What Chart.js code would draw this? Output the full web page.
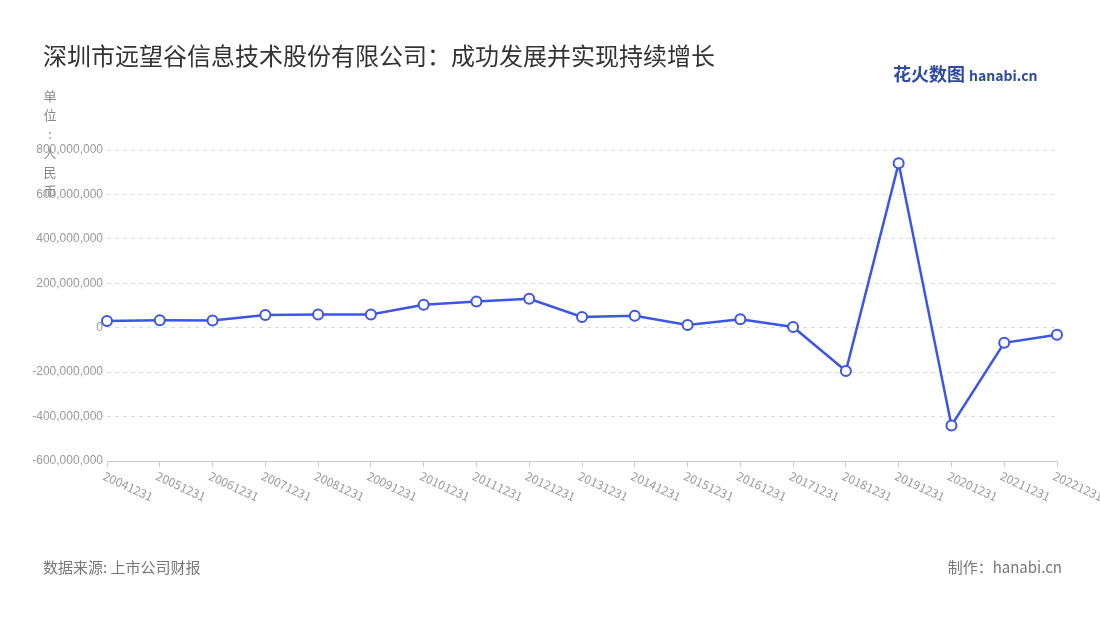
<!DOCTYPE html>
<html><head><meta charset="utf-8">
<script src="https://cdn.jsdelivr.net/npm/chart.js@4"></script>
<style>
body{margin:0;width:1100px;height:620px;background:#fff;font-family:"Noto Sans CJK SC","Noto Sans",sans-serif;position:relative;overflow:hidden}
#title{position:absolute;left:43px;top:37px;font-size:24px;color:#333}
#logo{position:absolute;left:893px;top:60px;font-size:18px;font-weight:bold;color:#2d4ba0}
#logo span{font-size:14px;color:#2d4ba0}
#unit{position:absolute;left:43px;top:86px;width:14px;font-size:13px;color:#888;line-height:19px;text-align:center}
#src{position:absolute;left:43px;top:556px;font-size:15px;color:#777}
#made{position:absolute;right:38px;top:556px;font-size:15px;color:#777}
#wrap{position:absolute;left:0;top:0;width:1100px;height:620px}
</style></head><body>
<div id="wrap"><canvas id="c" width="1100" height="620"></canvas></div>
<div id="title">深圳市远望谷信息技术股份有限公司：成功发展并实现持续增长</div>
<div id="logo">花火数图 <span>hanabi.cn</span></div>
<div id="unit">单<br>位<br>:<br>人<br>民<br>币</div>
<div id="src">数据来源: 上市公司财报</div>
<div id="made">制作：hanabi.cn</div>
<script>
const categories=["20041231","20051231","20061231","20071231","20081231","20091231","20101231","20111231","20121231","20131231","20141231","20151231","20161231","20171231","20181231","20191231","20201231","20211231","20221231"];
const values=[30e6,34e6,33e6,57e6,60e6,60e6,103e6,118e6,130e6,48e6,54e6,12e6,38e6,3e6,-195e6,740e6,-440e6,-68e6,-32e6];
const rotLabels={id:'rot',afterDraw(ch){const x=ch.scales.x,c=ch.ctx;c.save();c.font='12px "Noto Sans CJK SC"';c.fillStyle='#999';
categories.forEach((l,i)=>{const px=x.getPixelForValue(i);c.save();c.translate(px-3,x.top+14);c.rotate(25*Math.PI/180);c.textBaseline='middle';c.fillText(l,0,0);c.restore();});c.restore();}};
new Chart(document.getElementById('c'),{type:'line',data:{labels:categories,datasets:[{data:values,borderColor:'#3d55e6',borderWidth:2.5,pointBackgroundColor:'#fff',pointBorderColor:'#3d55e6',pointBorderWidth:2,pointRadius:5,tension:0}]},
options:{responsive:false,animation:false,layout:{padding:{left:0,right:43,top:150,bottom:153}},
plugins:{legend:{display:false},tooltip:{enabled:false}},
scales:{x:{offset:false,grid:{display:true,drawOnChartArea:false,tickLength:6,color:'#ccc'},border:{color:'#ccc'},ticks:{display:false}},
y:{min:-600e6,max:800e6,afterFit(s){s.width=107},grid:{color:'#ddd',tickLength:0},border:{display:false,dash:[4,4]},
ticks:{stepSize:200e6,color:'#999',font:{size:12},padding:4,callback:v=>v.toLocaleString('en-US')}}}},
plugins:[rotLabels]});
</script></body></html>
